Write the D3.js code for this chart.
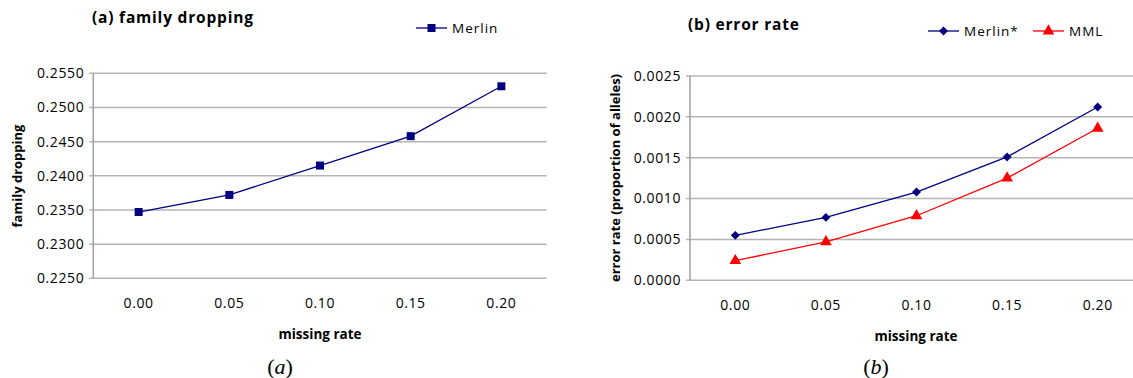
<!DOCTYPE html>
<html>
<head>
<meta charset="utf-8">
<script src="https://cdn.jsdelivr.net/npm/d3@7"></script>
<style>
  body { margin: 0; background: #fff; }
  svg text { font-family: "Open Sans", sans-serif; fill: #000; }
  .grid line { stroke: #b4b4b4; stroke-width: 1.5; }
  .caption { font-family: "Liberation Serif", serif; }
</style>
</head>
<body>
<svg width="1133" height="378"></svg>
<script>
// categories on the x axis
var missingRates = ["0.00", "0.05", "0.10", "0.15", "0.20"];

// panel (a)
var merlinDrop = [0.2347, 0.2372, 0.2415, 0.2458, 0.2531];
var ticksA = [0.2250, 0.2300, 0.2350, 0.2400, 0.2450, 0.2500, 0.2550];

// panel (b)
var merlinErr = [0.00055, 0.00077, 0.00108, 0.00151, 0.00212];
var mmlErr = [0.00024, 0.00047, 0.00079, 0.00125, 0.00186];
var ticksB = [0.0000, 0.0005, 0.0010, 0.0015, 0.0020, 0.0025];

function marker(sel, s) {
  sel.attr("fill", s.color)
    .attr("d", d3.symbol().type(s.symbol).size(s.size));
}

function init()
{
  var svg = d3.select("svg");

  function panel(opt) {
    var x = d3.scaleBand()
      .domain(missingRates)
      .range([opt.left, opt.right]);
    var y = d3.scaleLinear()
      .domain(opt.domain)
      .range([opt.bottom, opt.top]);

    // gridlines
    svg.append("g")
      .attr("class", "grid")
      .selectAll("line")
      .data(opt.ticks)
      .enter().append("line")
        .attr("x1", opt.left - 4)
        .attr("x2", opt.right)
        .attr("y1", function (d) { return y(d); })
        .attr("y2", function (d) { return y(d); });

    // y axis line
    svg.append("line")
      .attr("x1", opt.left).attr("x2", opt.left)
      .attr("y1", opt.top).attr("y2", opt.bottom)
      .attr("stroke", "#a0a0a0").attr("stroke-width", 1.5);

    // y tick labels
    svg.append("g")
      .selectAll("text")
      .data(opt.ticks)
      .enter().append("text")
        .attr("x", opt.left - 9)
        .attr("y", function (d) { return y(d); })
        .attr("dy", "0.35em")
        .attr("text-anchor", "end")
        .style("font-size", "14px")
        .style("letter-spacing", "0.6px")
        .text(function (d) { return d.toFixed(4); });

    // x tick labels
    svg.append("g")
      .selectAll("text")
      .data(missingRates)
      .enter().append("text")
        .attr("x", function (d) { return x(d) + x.bandwidth() / 2; })
        .attr("y", opt.bottom + 25)
        .attr("dy", "0.35em")
        .attr("text-anchor", "middle")
        .style("font-size", "14px")
        .style("letter-spacing", "0.6px")
        .text(function (d) { return d; });

    // axis titles
    svg.append("text")
      .attr("x", opt.xTitleX)
      .attr("y", opt.bottom + 56)
      .attr("dy", "0.35em")
      .attr("text-anchor", "middle")
      .style("font-size", "13.5px")
      .style("font-weight", "bold")
      .text("missing rate");

    svg.append("text")
      .attr("transform", "translate(" + opt.yTitleX + "," + opt.yTitleY + ") rotate(-90)")
      .attr("dy", "0.35em")
      .attr("text-anchor", "middle")
      .style("font-size", "13px")
      .style("font-weight", "bold")
      .text(opt.yTitle);

    // chart title
    svg.append("text")
      .attr("x", opt.titleX)
      .attr("y", opt.titleY)
      .attr("dy", "0.35em")
      .style("font-size", "15.5px")
      .style("font-weight", "bold")
      .style("letter-spacing", "0.8px")
      .text(opt.title);

    // caption below: upright brackets, italic letter
    var cap = svg.append("text")
      .attr("class", "caption")
      .attr("x", opt.captionX)
      .attr("y", 366)
      .attr("dy", "0.35em")
      .attr("text-anchor", "middle")
      .style("font-size", "22px");
    cap.append("tspan").text("(");
    cap.append("tspan").style("font-style", "italic").text(opt.caption);
    cap.append("tspan").text(")");

    var line = d3.line()
      .x(function (d, i) { return x(missingRates[i]) + x.bandwidth() / 2; })
      .y(function (d) { return y(d); });

    opt.series.forEach(function (s) {
      svg.append("path")
        .datum(s.values)
        .attr("fill", "none")
        .attr("stroke", s.color)
        .attr("stroke-width", 1.3)
        .attr("d", line);

      svg.append("g")
        .selectAll("path")
        .data(s.values)
        .enter().append("path")
          .attr("transform", function (d, i) {
            return "translate(" + (x(missingRates[i]) + x.bandwidth() / 2) + "," + y(d) + ") rotate(" + (s.rotate || 0) + ")";
          })
          .call(marker, s);

      // legend entry
      var lg = svg.append("g")
        .attr("transform", "translate(" + s.legendX + "," + opt.legendY + ")");
      lg.append("line")
        .attr("x1", 0).attr("x2", 31)
        .attr("stroke", s.color).attr("stroke-width", 1.3);
      lg.append("path")
        .attr("transform", "translate(15.5,0) rotate(" + (s.rotate || 0) + ")")
        .call(marker, s);
      lg.append("text")
        .attr("x", 36)
        .attr("dy", "0.35em")
        .style("font-size", "13.5px")
        .style("letter-spacing", "1px")
        .text(s.name);
    });
  }

  panel({
    left: 93.3, right: 546.7, top: 73.3, bottom: 278.3,
    domain: [0.2250, 0.2550], ticks: ticksA,
    title: "(a) family dropping", titleX: 92, titleY: 18,
    yTitle: "family dropping", yTitleX: 17, yTitleY: 176,
    xTitleX: 320, caption: "a", captionX: 280,
    legendY: 28,
    series: [
      { name: "Merlin", values: merlinDrop, color: "#000080",
        symbol: d3.symbolSquare, size: 64, legendX: 416 }
    ]
  });

  panel({
    left: 690, right: 1143, top: 76, bottom: 280.3,
    domain: [0.0000, 0.0025], ticks: ticksB,
    title: "(b) error rate", titleX: 688, titleY: 25,
    yTitle: "error rate (proportion of alleles)", yTitleX: 615, yTitleY: 178,
    xTitleX: 916, caption: "b", captionX: 876,
    legendY: 31,
    series: [
      { name: "Merlin*", values: merlinErr, color: "#000080",
        symbol: d3.symbolSquare, size: 40, rotate: 45, legendX: 928 },
      { name: "MML", values: mmlErr, color: "#ff0000",
        symbol: d3.symbolTriangle, size: 60, legendX: 1033 }
    ]
  });
}
window.onload = init;
</script>
</body>
</html>
